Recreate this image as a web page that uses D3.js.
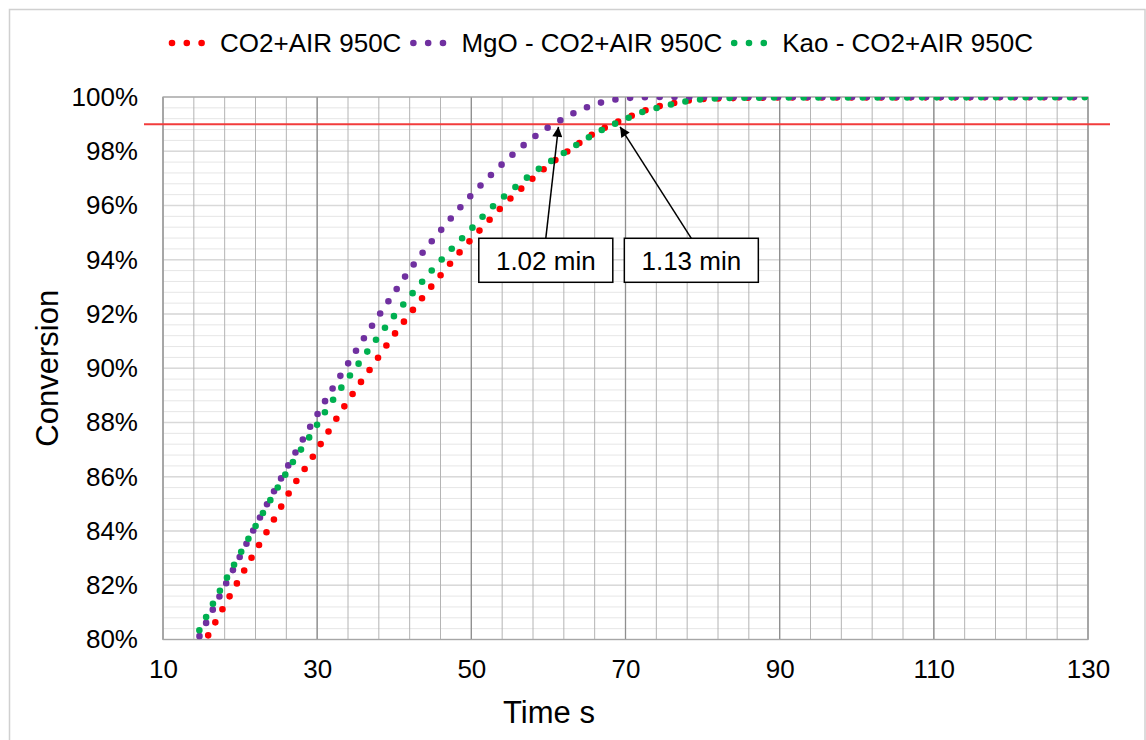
<!DOCTYPE html>
<html>
<head>
<meta charset="utf-8">
<script src="https://cdn.jsdelivr.net/npm/d3@7"></script>
<style>
  body { margin: 0; background: #fff; }
  svg { display: block; }
  text { font-family: "Liberation Sans", Arial, sans-serif; fill: #000; }
</style>
</head>
<body>
<svg id="chart" width="1146" height="740"></svg>
<script>
// series (time in s, conversion in %)
const seriesNames = ["CO2+AIR 950C", "MgO - CO2+AIR 950C", "Kao - CO2+AIR 950C"];
const seriesColors = ["#ff0000", "#7030a0", "#00b050"];

const timeAir = [14, 15.8, 18.5, 21.3, 24.2, 27.0, 29.1, 31.1, 33.1, 35.2, 37.4, 39.5, 41.8, 44.1, 46.5, 48.9, 51.5, 54.1, 56.9, 59.7, 62.8, 66.0, 69.6, 72.8, 76.7, 80.4, 90, 130];
const convAir = [79.2, 80.12, 81.52, 82.92, 84.33, 85.71, 86.59, 87.50, 88.41, 89.30, 90.18, 91.05, 91.92, 92.76, 93.60, 94.41, 95.21, 95.99, 96.73, 97.41, 98.06, 98.67, 99.16, 99.53, 99.80, 99.93, 99.98, 99.99];

const timeMgO = [13, 14.9, 17.4, 20.0, 22.6, 25.3, 27.1, 29.9, 31.8, 33.8, 35.8, 37.9, 40.0, 42.1, 44.4, 46.8, 49.3, 51.9, 54.7, 59.1, 60.7, 63.9, 67.6, 71.4, 75, 130];
const convMgO = [79.15, 80.22, 81.63, 83.07, 84.51, 85.93, 86.85, 88.24, 89.16, 90.08, 90.99, 91.90, 92.79, 93.66, 94.52, 95.34, 96.17, 96.94, 97.71, 98.72, 99.00, 99.49, 99.85, 99.98, 100, 100];

const timeKao = [12, 14.2, 16.8, 19.5, 22.3, 25.1, 27.0, 29.1, 31.1, 33.2, 35.4, 37.6, 39.9, 42.3, 44.7, 47.2, 49.9, 52.4, 55.5, 58.4, 61.6, 64.7, 68.0, 69.9, 71.4, 73.2, 75.3, 77.1, 78.8, 80.8, 82.7, 90, 130];
const convKao = [78.9, 80.06, 81.49, 82.90, 84.33, 85.71, 86.61, 87.51, 88.42, 89.31, 90.18, 91.04, 91.90, 92.74, 93.55, 94.33, 95.11, 95.86, 96.63, 97.28, 97.86, 98.42, 98.94, 99.16, 99.37, 99.53, 99.68, 99.80, 99.88, 99.93, 99.96, 99.98, 99.99];

const xTicks = [10, 30, 50, 70, 90, 110, 130];
const yTicks = [80, 82, 84, 86, 88, 90, 92, 94, 96, 98, 100];
const thresholdValue = 99;

// annotation callouts: label, arrow tip (time, conv), box centre (time, conv)
const noteLabels = ["1.02 min", "1.13 min"];
const noteTips = [[61.3, 98.9], [69.3, 98.9]];
const noteBoxes = [[59.66, 93.98], [78.54, 93.98]];

const svg = d3.select("#chart");
const W = 1146, H = 740;
const pLeft = 163, pRight = 1088, pTop = 97, pBottom = 639.5;

const x = d3.scaleLinear().domain([10, 130]).range([pLeft, pRight]);
const y = d3.scaleLinear().domain([80, 100]).range([pBottom, pTop]);

// outer chart frame
svg.append("rect")
    .attr("x", 9.5).attr("y", 9.5)
    .attr("width", W - 10.5).attr("height", H)
    .attr("fill", "#fff")
    .attr("stroke", "#d0d0d0").attr("stroke-width", 1.5);

// gridlines
const grid = svg.append("g");
grid.selectAll(".hmin").data(d3.range(80, 100.001, 0.4)).join("line")
    .attr("x1", pLeft).attr("x2", pRight)
    .attr("y1", d => y(d)).attr("y2", d => y(d))
    .attr("stroke", "#e6e6e6").attr("stroke-width", 1);
grid.selectAll(".hmaj").data(yTicks).join("line")
    .attr("x1", pLeft).attr("x2", pRight)
    .attr("y1", d => y(d)).attr("y2", d => y(d))
    .attr("stroke", "#d9d9d9").attr("stroke-width", 1.5);
grid.selectAll(".vmin").data(d3.range(10, 130.001, 4)).join("line")
    .attr("x1", d => x(d)).attr("x2", d => x(d))
    .attr("y1", pTop).attr("y2", pBottom)
    .attr("stroke", "#b4b4b4").attr("stroke-width", 1);
grid.selectAll(".vmaj").data(xTicks).join("line")
    .attr("x1", d => x(d)).attr("x2", d => x(d))
    .attr("y1", pTop).attr("y2", pBottom)
    .attr("stroke", "#8f8f8f").attr("stroke-width", 1.3);

svg.append("rect")
    .attr("x", pLeft).attr("y", pTop)
    .attr("width", pRight - pLeft).attr("height", pBottom - pTop)
    .attr("fill", "none").attr("stroke", "#a6a6a6").attr("stroke-width", 1.2);

// axes
const yAxis = svg.append("g")
    .attr("transform", `translate(${pLeft},0)`)
    .call(d3.axisLeft(y).tickValues(yTicks).tickSize(0).tickPadding(25).tickFormat(d => d + "%"));
yAxis.select(".domain").remove();
yAxis.selectAll("text").attr("font-size", 26).attr("font-family", null);

const xAxis = svg.append("g")
    .attr("transform", `translate(0,${pBottom})`)
    .call(d3.axisBottom(x).tickValues(xTicks).tickSize(0).tickPadding(20));
xAxis.select(".domain").remove();
xAxis.selectAll("text").attr("font-size", 26).attr("font-family", null);

svg.append("text")
    .attr("transform", `translate(58,${(pTop + pBottom) / 2}) rotate(-90)`)
    .attr("text-anchor", "middle")
    .attr("font-size", 31)
    .text("Conversion");

svg.append("text")
    .attr("x", 549).attr("y", 723)
    .attr("text-anchor", "middle")
    .attr("font-size", 31)
    .text("Time s");

// 99% reference line
svg.append("line")
    .attr("x1", pLeft - 19).attr("x2", pRight + 22)
    .attr("y1", y(thresholdValue)).attr("y2", y(thresholdValue))
    .attr("stroke", "#f23c3c").attr("stroke-width", 2);

// series as round-dot lines
svg.append("clipPath").attr("id", "plotclip")
    .append("rect").attr("x", pLeft).attr("y", pTop)
    .attr("width", pRight - pLeft).attr("height", pBottom - pTop);

const line = d3.line()
    .x(d => x(d[0])).y(d => y(d[1]))
    .curve(d3.curveMonotoneX);

const series = [
    d3.zip(timeAir, convAir),
    d3.zip(timeMgO, convMgO),
    d3.zip(timeKao, convKao)
];

const dotWidth = 6.6, dotGap = "0 14.8";

svg.append("g").attr("clip-path", "url(#plotclip)")
    .selectAll("path").data(series).join("path")
    .attr("d", line)
    .attr("fill", "none")
    .attr("stroke", (d, i) => seriesColors[i])
    .attr("stroke-width", dotWidth)
    .attr("stroke-linecap", "round")
    .attr("stroke-dasharray", dotGap);

// legend
const legend = svg.append("g");
let lx = 172;
seriesNames.forEach((name, i) => {
    legend.append("line")
        .attr("x1", lx).attr("x2", lx + 30)
        .attr("y1", 43).attr("y2", 43)
        .attr("stroke", seriesColors[i])
        .attr("stroke-width", dotWidth)
        .attr("stroke-linecap", "round")
        .attr("stroke-dasharray", dotGap);
    const t = legend.append("text")
        .attr("x", lx + 48).attr("y", 52)
        .attr("font-size", 26)
        .text(name);
    lx = lx + 48 + t.node().getComputedTextLength() + 12;
});

// callouts
const defs = svg.append("defs");
defs.append("marker")
    .attr("id", "arrow")
    .attr("viewBox", "0 0 10 10")
    .attr("refX", 10).attr("refY", 5)
    .attr("markerUnits", "userSpaceOnUse")
    .attr("markerWidth", 12).attr("markerHeight", 10)
    .attr("orient", "auto")
    .append("path").attr("d", "M0,0L10,5L0,10z").attr("fill", "#000");

const boxW = 134, boxH = 44;
noteLabels.forEach((label, i) => {
    const cx = x(noteBoxes[i][0]), cy = y(noteBoxes[i][1]);
    svg.append("line")
        .attr("x1", cx).attr("y1", cy - boxH / 2)
        .attr("x2", x(noteTips[i][0])).attr("y2", y(noteTips[i][1]))
        .attr("stroke", "#000").attr("stroke-width", 1.5)
        .attr("marker-end", "url(#arrow)");
    svg.append("rect")
        .attr("x", cx - boxW / 2).attr("y", cy - boxH / 2)
        .attr("width", boxW).attr("height", boxH)
        .attr("fill", "#fff").attr("stroke", "#000").attr("stroke-width", 1.5);
    svg.append("text")
        .attr("x", cx).attr("y", cy + 9.5)
        .attr("text-anchor", "middle")
        .attr("font-size", 26)
        .text(label);
});
</script>
</body>
</html>
